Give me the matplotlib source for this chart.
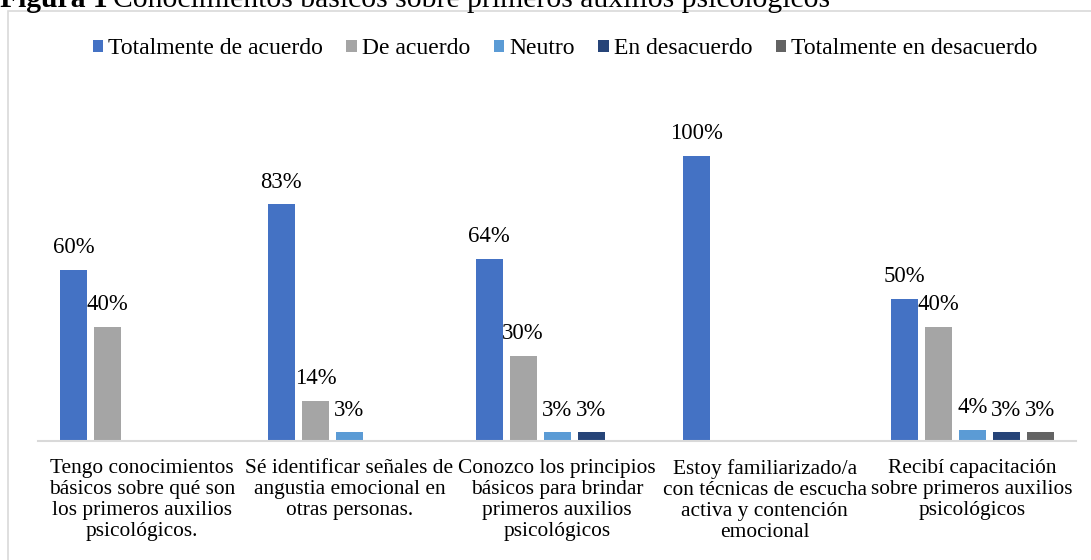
import matplotlib
matplotlib.use("Agg")
import matplotlib.pyplot as plt
import numpy as np
from matplotlib.patches import Rectangle

categories = [
    "Tengo conocimientos\nbásicos sobre qué son\nlos primeros auxilios\npsicológicos.",
    "Sé identificar señales de\nangustia emocional en\notras personas.",
    "Conozco los principios\nbásicos para brindar\nprimeros auxilios\npsicológicos",
    "Estoy familiarizado/a\ncon técnicas de escucha\nactiva y contención\nemocional",
    "Recibí capacitación\nsobre primeros auxilios\npsicológicos",
]
series_names = ["Totalmente de acuerdo", "De acuerdo", "Neutro", "En desacuerdo", "Totalmente en desacuerdo"]
totalmente_de_acuerdo = [0.60, 0.83, 0.64, 1.00, 0.50]
de_acuerdo = [0.40, 0.14, 0.30, 0.0, 0.40]
neutro = [0.0, 0.03, 0.03, 0.0, 0.04]
en_desacuerdo = [0.0, 0.0, 0.03, 0.0, 0.03]
totalmente_en_desacuerdo = [0.0, 0.0, 0.0, 0.0, 0.03]
series = [totalmente_de_acuerdo, de_acuerdo, neutro, en_desacuerdo, totalmente_en_desacuerdo]
colors = ["#4472C4", "#A5A5A5", "#5B9BD5", "#264478", "#636363"]

plt.rcParams['font.family'] = ['Liberation Serif', 'DejaVu Serif']
W, H = 1091, 560
fig = plt.figure(figsize=(W / 100, H / 100), dpi=100)

# border
fig.patches.append(Rectangle((8 / W, -0.1), 1.2, (H - 11) / H + 0.1, transform=fig.transFigure,
                             fill=False, edgecolor="#D9D9D9", linewidth=1.2))

# title (partially cut at top, as in the reference)
t1 = fig.text(0 / W, 1 - 7 / H, "Figura 1", fontsize=21.3, fontweight="bold", va="baseline", ha="left")
fig.canvas.draw()
r = fig.canvas.get_renderer()
bb = t1.get_window_extent(r)
fig.text((bb.x1 + 5) / W, 1 - 7 / H, "Conocimientos básicos sobre primeros auxilios psicológicos",
         fontsize=21.3, va="baseline", ha="left")

ax = fig.add_axes([38 / W, (H - 441) / H, 1038 / W, 285 / H])
ax.set_ylim(0, 1.0)
x = np.arange(len(categories))
n = len(series)
slot = 34 / 207.6
bw = 27 / 207.6
for i, (vals, c, name) in enumerate(zip(series, colors, series_names)):
    pos = x + (i - (n - 1) / 2) * slot
    ax.bar(pos, vals, width=bw, color=c, label=name)
    for p, v in zip(pos, vals):
        if v > 0:
            ax.annotate(f"{v * 100:.0f}%", (p, v), xytext=(0, 8.5), textcoords="offset points",
                        ha="center", va="bottom", fontsize=16.4, annotation_clip=False)
ax.set_xlim(-0.5, len(categories) - 0.5)
for s in ["top", "right", "left"]:
    ax.spines[s].set_visible(False)
ax.spines["bottom"].set_color("#D9D9D9")
ax.spines["bottom"].set_linewidth(1.5)
ax.set_yticks([])
ax.set_xticks(x)
ax.set_xticklabels(categories, fontsize=15.4, linespacing=1.15, va="top")
ax.tick_params(axis="x", length=0, pad=13)

fig.legend(loc="center", bbox_to_anchor=(565 / W, 1 - 49 / H), ncol=5, frameon=False,
           fontsize=17, handlelength=0.45, handleheight=0.45, handletextpad=0.2, columnspacing=1.0)

fig.savefig("out.png", dpi=100)
